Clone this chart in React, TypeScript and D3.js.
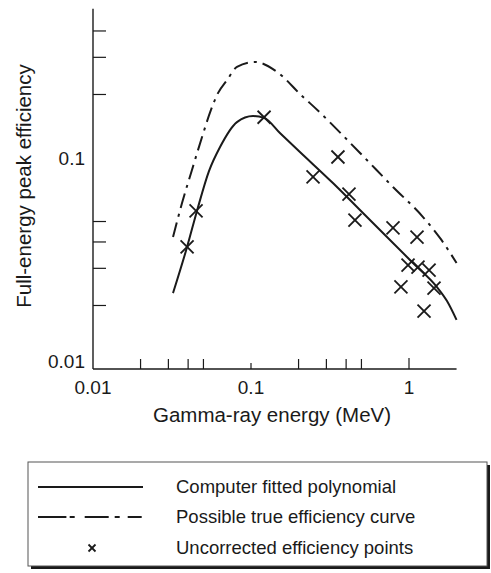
import React from "react";
import * as d3 from "d3";

// Fitted polynomial (solid)
const solidEnergy = [0.0321, 0.0394, 0.0455, 0.0542, 0.0637, 0.0815, 0.103, 0.121, 0.153, 0.204, 0.330, 0.542, 0.655, 1.06, 1.50, 1.74, 2.0];
const solidEff = [0.0229, 0.0379, 0.0561, 0.0867, 0.1128, 0.148, 0.158, 0.155, 0.131, 0.1068, 0.0761, 0.0525, 0.0456, 0.0318, 0.0245, 0.0210, 0.0171];

// Possible true efficiency curve (dash-dot)
const dashEnergy = [0.0321, 0.0366, 0.0423, 0.049, 0.0558, 0.0618, 0.0705, 0.0815, 0.106, 0.146, 0.213, 0.236, 0.490, 0.792, 1.227, 1.6, 2.0];
const dashEff = [0.0422, 0.0612, 0.0877, 0.1258, 0.169, 0.203, 0.234, 0.270, 0.285, 0.256, 0.195, 0.182, 0.1056, 0.0729, 0.0525, 0.0410, 0.0318];

// Uncorrected efficiency points
const pointEnergy = [0.0394, 0.0449, 0.121, 0.247, 0.355, 0.417, 0.455, 0.792, 1.124, 0.986, 1.14, 1.34, 0.889, 1.44, 1.245];
const pointEff = [0.0379, 0.0561, 0.156, 0.0813, 0.1011, 0.0675, 0.0508, 0.0466, 0.0422, 0.0311, 0.0304, 0.0294, 0.0245, 0.0242, 0.0188];

const xMinorTicks = [0.02, 0.03, 0.04, 0.05, 0.2, 0.3, 0.4, 0.5];
const xMajorTicks = [0.1, 1];
const xTickLabels = ["0.01", "0.1", "1"];
const xLabelValues = [0.01, 0.1, 1];
const yTicks = [0.02, 0.03, 0.04, 0.05, 0.2, 0.3, 0.4];
const yLabelValues = [0.01, 0.1];
const yTickLabels = ["0.01", "0.1"];

const legendLabels = [
  "Computer fitted polynomial",
  "Possible true efficiency curve",
  "Uncorrected efficiency points",
];

const FONT = "'Liberation Sans', Arial, Helvetica, sans-serif";
const INK = "#1a1a1a";

export default function App() {
  const x = d3.scaleLog().domain([0.01, 0.1]).range([93, 251]);
  const y = d3.scaleLog().domain([0.01, 0.1]).range([369, 158]);
  const xMax = 2;
  const yTop = 0.51;

  const line = d3
    .line<[number, number]>()
    .x((d) => x(d[0]))
    .y((d) => y(d[1]))
    .curve(d3.curveMonotoneX);

  const solidPath = line(solidEnergy.map((e, i) => [e, solidEff[i]]));
  const dashPath = line(dashEnergy.map((e, i) => [e, dashEff[i]]));

  const cross = (cx: number, cy: number, r: number, sw: number, key: any) => (
    <g key={key} stroke={INK} strokeWidth={sw}>
      <line x1={cx - r} y1={cy - r} x2={cx + r} y2={cy + r} />
      <line x1={cx - r} y1={cy + r} x2={cx + r} y2={cy - r} />
    </g>
  );

  const x0 = x(0.01);
  const y0 = y(0.01);

  const legRows = [487, 517, 548];

  return (
    <svg
      width={491}
      height={573}
      style={{ position: "absolute", left: 0, top: 0, background: "#fff" }}
      fontFamily={FONT}
    >
      {/* axes */}
      <line x1={x0} y1={y(yTop)} x2={x0} y2={y0} stroke={INK} strokeWidth={1.4} />
      <line x1={x0} y1={y0} x2={x(xMax)} y2={y0} stroke={INK} strokeWidth={1.4} />
      {yTicks.map((t) => (
        <line key={"yt" + t} x1={x0} x2={x0 + 13} y1={y(t)} y2={y(t)} stroke={INK} strokeWidth={1.2} />
      ))}
      {xMinorTicks.map((t) => (
        <line key={"xt" + t} x1={x(t)} x2={x(t)} y1={y0} y2={y0 - 10} stroke={INK} strokeWidth={1.2} />
      ))}
      {xMajorTicks.map((t) => (
        <line key={"xm" + t} x1={x(t)} x2={x(t)} y1={y0} y2={y0 - (t === 1 ? 11 : 6)} stroke={INK} strokeWidth={1.2} />
      ))}
      {xLabelValues.map((v, i) => (
        <text key={"xl" + v} x={x(v)} y={394} textAnchor="middle" fontSize={19} fill={INK}>
          {xTickLabels[i]}
        </text>
      ))}
      {yLabelValues.map((v, i) => (
        <text
          key={"yl" + v}
          x={85}
          y={v === 0.01 ? 368 : y(v) + 7}
          textAnchor="end"
          fontSize={19}
          fill={INK}
        >
          {yTickLabels[i]}
        </text>
      ))}
      <text x={272} y={422} textAnchor="middle" fontSize={20.5} fill={INK}>
        Gamma-ray energy (MeV)
      </text>
      <text
        transform={`translate(31,186) rotate(-90)`}
        textAnchor="middle"
        fontSize={20.5}
        fill={INK}
      >
        Full-energy peak efficiency
      </text>

      {/* curves */}
      <path d={dashPath || ""} fill="none" stroke={INK} strokeWidth={2} strokeDasharray="15,6,3,6" />
      <path d={solidPath || ""} fill="none" stroke={INK} strokeWidth={2} />
      {pointEnergy.map((e, i) => cross(x(e), y(pointEff[i]), 6.5, 1.8, "p" + i))}

      {/* legend */}
      <rect x={31} y={465} width={459} height={104} fill={INK} />
      <rect x={28} y={462} width={459} height={104} fill="#fff" stroke="#555" strokeWidth={1} />
      <line x1={38} x2={143} y1={legRows[0]} y2={legRows[0]} stroke={INK} strokeWidth={1.8} />
      <line
        x1={38}
        x2={143}
        y1={legRows[1]}
        y2={legRows[1]}
        stroke={INK}
        strokeWidth={1.8}
        strokeDasharray="28.4,3.3,5,10,24,6,5,8,14,10"
      />
      {cross(92, legRows[2], 3.5, 1.8, "leg")}
      {legendLabels.map((l, i) => (
        <text key={l} x={176} y={legRows[i] + 6} fontSize={18.5} fill={INK}>
          {l}
        </text>
      ))}
    </svg>
  );
}
